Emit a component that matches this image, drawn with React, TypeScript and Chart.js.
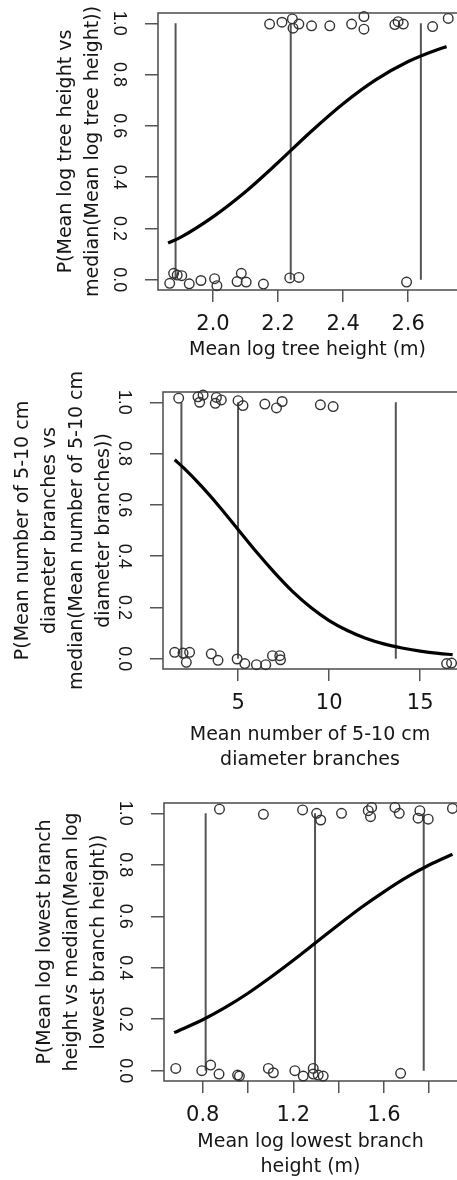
import React, { useEffect, useRef } from 'react';
import { Chart, registerables } from 'chart.js';

Chart.register(...registerables);

// ---------- shared y axis ----------
const yTicks = [0, 0.2, 0.4, 0.6, 0.8, 1.0];
const yTickLabels = ['0.0', '0.2', '0.4', '0.6', '0.8', '1.0'];

// ---------- panel 1: mean log tree height ----------
const p1XTicks = [2.0, 2.2, 2.4, 2.6];
const p1XTickLabels = ['2.0', '2.2', '2.4', '2.6'];
const p1PointX = [2.174, 2.212, 2.244, 2.246, 2.264, 2.303, 2.359, 2.426, 2.464, 2.464, 2.559, 2.569, 2.585, 2.675, 2.723,
  1.867, 1.879, 1.89, 1.904, 1.927, 1.963, 2.005, 2.012, 2.074, 2.087, 2.102, 2.155, 2.236, 2.264, 2.595];
const p1PointY = [0.997, 1.004, 1.017, 0.981, 0.997, 0.990, 0.990, 0.997, 1.026, 0.977, 0.995, 1.006, 0.997, 0.987, 1.019,
  -0.014, 0.025, 0.018, 0.016, -0.016, -0.003, 0.004, -0.023, -0.007, 0.025, -0.009, -0.017, 0.007, 0.009, -0.009];
const p1VLineX = [1.885, 2.239, 2.639];
const p1CurveX = [1.862, 1.9, 2.0, 2.1, 2.2, 2.3, 2.4, 2.5, 2.6, 2.7, 2.718];
const p1CurveY = [0.143, 0.165, 0.245, 0.343, 0.457, 0.576, 0.686, 0.779, 0.851, 0.902, 0.909];
const p1XTitle = ['Mean log tree height (m)'];
const p1YTitle = ['P(Mean log tree height vs', 'median(Mean log tree height))'];

// ---------- panel 2: number of 5-10 cm branches ----------
const p2XTicks = [5, 10, 15];
const p2XTickLabels = ['5', '10', '15'];
const p2PointX = [1.74, 2.80, 3.08, 2.89, 3.81, 3.75, 4.08, 5.0, 5.27, 6.47, 7.11, 7.42, 9.52, 10.22,
  1.52, 1.98, 2.34, 2.16, 3.53, 3.90, 4.95, 5.37, 6.01, 6.52, 6.89, 7.29, 7.33, 16.45, 16.72];
const p2PointY = [1.016, 1.021, 1.028, 1.0, 1.019, 0.996, 1.009, 1.006, 0.987, 0.993, 0.978, 1.003, 0.990, 0.983,
  0.025, 0.022, 0.025, -0.014, 0.019, -0.006, -0.001, -0.019, -0.023, -0.023, 0.012, 0.012, -0.004, -0.019, -0.017];
const p2VLineX = [1.89, 5.0, 13.66];
const p2CurveX = [1.52, 2, 3, 4, 5, 6, 7, 8, 9, 10, 11, 12, 13, 14, 15, 16, 16.78];
const p2CurveY = [0.776, 0.745, 0.672, 0.591, 0.504, 0.417, 0.336, 0.262, 0.200, 0.149, 0.110, 0.080, 0.058, 0.042, 0.030, 0.021, 0.016];
const p2XTitle = ['Mean number of 5-10 cm', 'diameter branches'];
const p2YTitle = ['P(Mean number of 5-10 cm', 'diameter branches vs', 'median(Mean number of 5-10 cm', 'diameter branches))'];

// ---------- panel 3: mean log lowest branch height ----------
const p3XTicks = [0.8, 1.0, 1.2, 1.4, 1.6, 1.8];
const p3XTickLabels = ['0.8', '', '1.2', '', '1.6', ''];
const p3PointX = [0.874, 1.068, 1.241, 1.303, 1.321, 1.413, 1.531, 1.546, 1.541, 1.649, 1.668, 1.759, 1.751, 1.796, 1.903,
  0.681, 0.796, 0.835, 0.872, 0.954, 0.962, 1.090, 1.112, 1.207, 1.244, 1.288, 1.288, 1.310, 1.332, 1.674];
const p3PointY = [1.016, 0.996, 1.013, 1.0, 0.974, 1.0, 1.010, 1.023, 0.987, 1.023, 1.0, 1.010, 0.981, 0.977, 1.019,
  0.009, 0.0, 0.022, -0.013, -0.017, -0.021, 0.009, -0.008, 0.0, -0.021, 0.009, -0.013, -0.017, -0.021, -0.010];
const p3VLineX = [0.813, 1.296, 1.776];
const p3CurveX = [0.674, 0.8, 0.9, 1.0, 1.1, 1.2, 1.3, 1.4, 1.5, 1.6, 1.7, 1.8, 1.903];
const p3CurveY = [0.148, 0.198, 0.246, 0.301, 0.363, 0.429, 0.498, 0.567, 0.634, 0.695, 0.751, 0.799, 0.841];
const p3XTitle = ['Mean log lowest branch', 'height (m)'];
const p3YTitle = ['P(Mean log lowest branch', 'height vs median(Mean log', 'lowest branch height))'];

type Spec = {
  top: number; height: number; padTop: number; axisLeft: number; axisBottom: number;
  xMin: number; xMax: number; xTicks: number[]; xTickLabels: string[];
  pointX: number[]; pointY: number[]; vlineX: number[]; curveX: number[]; curveY: number[];
  xTitle: string[]; yTitle: string[]; xTitlePad: number; yTitlePad: number;
};

const specs: Spec[] = [
  { top: 0, height: 370, padTop: 13, axisLeft: 158, axisBottom: 80, xMin: 1.831, xMax: 2.75,
    xTicks: p1XTicks, xTickLabels: p1XTickLabels, pointX: p1PointX, pointY: p1PointY, vlineX: p1VLineX,
    curveX: p1CurveX, curveY: p1CurveY, xTitle: p1XTitle, yTitle: p1YTitle, xTitlePad: 7.6, yTitlePad: 52.5 },
  { top: 370, height: 410, padTop: 22, axisLeft: 163, axisBottom: 111, xMin: 0.879, xMax: 17.02,
    xTicks: p2XTicks, xTickLabels: p2XTickLabels, pointX: p2PointX, pointY: p2PointY, vlineX: p2VLineX,
    curveX: p2CurveX, curveY: p2CurveY, xTitle: p2XTitle, yTitle: p2YTitle, xTitlePad: 7.9, yTitlePad: 9.5 },
  { top: 780, height: 400, padTop: 23, axisLeft: 164, axisBottom: 99, xMin: 0.629, xMax: 1.923,
    xTicks: p3XTicks, xTickLabels: p3XTickLabels, pointX: p3PointX, pointY: p3PointY, vlineX: p3VLineX,
    curveX: p3CurveX, curveY: p3CurveY, xTitle: p3XTitle, yTitle: p3YTitle, xTitlePad: 1.0, yTitlePad: 31.5 },
];

const boxPlugin = {
  id: 'rbox',
  beforeDatasetsDraw(chart: any) {
    const { ctx, chartArea: a } = chart;
    ctx.save();
    ctx.strokeStyle = '#555';
    ctx.lineWidth = 1.6;
    ctx.strokeRect(a.left, a.top, a.right - a.left + 3, a.bottom - a.top);
    ctx.restore();
  },
};

const TEXT = '#151515';
const AXIS = '#555';

function Panel({ spec }: { spec: Spec }) {
  const ref = useRef<HTMLCanvasElement>(null);
  useEffect(() => {
    const datasets: any[] = [
      {
        data: spec.pointX.map((x, i) => ({ x, y: spec.pointY[i] })),
        showLine: false, pointRadius: 4.8, pointBorderWidth: 1.4,
        borderColor: '#333', backgroundColor: 'rgba(0,0,0,0)', clip: false,
      },
      {
        data: spec.curveX.map((x, i) => ({ x, y: spec.curveY[i] })),
        showLine: true, pointRadius: 0, borderColor: '#000', borderWidth: 3.2,
        cubicInterpolationMode: 'monotone', fill: false,
      },
      ...spec.vlineX.map((x) => ({
        data: [{ x, y: 0 }, { x, y: 1 }],
        showLine: true, pointRadius: 0, borderColor: '#555', borderWidth: 2, fill: false,
      })),
    ];
    const chart = new Chart(ref.current as HTMLCanvasElement, {
      type: 'scatter',
      data: { datasets },
      plugins: [boxPlugin],
      options: {
        responsive: false,
        animation: false,
        devicePixelRatio: 1,
        layout: { autoPadding: false, padding: { top: spec.padTop, left: 0, right: 0, bottom: 0 } },
        plugins: { legend: { display: false }, tooltip: { enabled: false } },
        scales: {
          x: {
            type: 'linear', min: spec.xMin, max: spec.xMax,
            afterBuildTicks: (s: any) => { s.ticks = spec.xTicks.map((v) => ({ value: v })); },
            afterFit: (s: any) => { s.height = spec.axisBottom; s.paddingLeft = 0; s.paddingRight = 0; },
            ticks: {
              autoSkip: false, maxRotation: 0, minRotation: 0, padding: 10.4, color: TEXT,
              font: { family: 'DejaVu Sans', size: 21 },
              callback: (_v: any, i: number) => spec.xTickLabels[i],
            },
            grid: { drawOnChartArea: false, drawTicks: true, tickLength: 12, color: AXIS, lineWidth: 1.5 },
            border: { display: false },
            title: {
              display: true, text: spec.xTitle, color: TEXT,
              font: { family: 'DejaVu Sans', size: 19, lineHeight: 1.3 },
              padding: { top: 0, bottom: spec.xTitlePad },
            },
          },
          y: {
            type: 'linear', min: -0.04, max: 1.04,
            afterBuildTicks: (s: any) => { s.ticks = yTicks.map((v) => ({ value: v })); },
            afterFit: (s: any) => { s.width = spec.axisLeft; s.paddingTop = 0; s.paddingBottom = 0; },
            ticks: {
              padding: 13.5, color: TEXT, minRotation: -90, maxRotation: -90, crossAlign: 'center',
              font: { family: 'Liberation Sans', size: 18 },
              callback: (_v: any, i: number) => yTickLabels[i],
            },
            grid: { drawOnChartArea: false, drawTicks: true, tickLength: 13, color: AXIS, lineWidth: 1.5 },
            border: { display: false },
            title: {
              display: true, text: spec.yTitle, color: TEXT,
              font: { family: 'DejaVu Sans', size: 19, lineHeight: 1.42 },
              padding: { top: spec.yTitlePad, bottom: 0 },
            },
          },
        },
      } as any,
    });
    return () => chart.destroy();
  }, [spec]);
  return (
    <canvas
      ref={ref}
      width={457}
      height={spec.height}
      style={{ position: 'absolute', left: 0, top: spec.top, width: 457, height: spec.height, display: 'block' }}
    />
  );
}

export default function App() {
  return (
    <div style={{ position: 'absolute', left: 0, top: 0, width: 457, height: 1180, overflow: 'hidden', background: '#fff' }}>
      {specs.map((s, i) => <Panel key={i} spec={s} />)}
    </div>
  );
}
